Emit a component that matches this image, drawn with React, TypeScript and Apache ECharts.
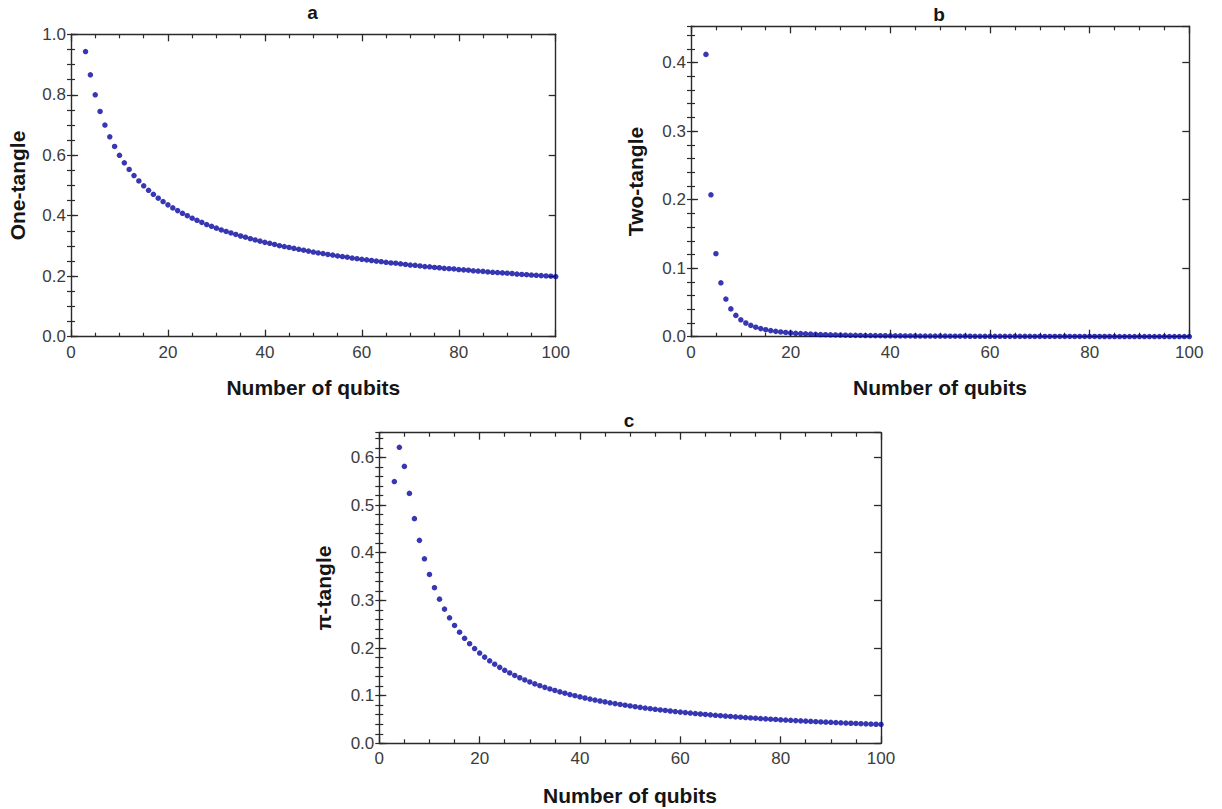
import React, { useEffect, useRef } from "react";
import * as echarts from "echarts";

// Number of qubits N
const qubits = [
  3, 4, 5, 6, 7, 8, 9, 10, 11, 12,
  13, 14, 15, 16, 17, 18, 19, 20, 21, 22,
  23, 24, 25, 26, 27, 28, 29, 30, 31, 32,
  33, 34, 35, 36, 37, 38, 39, 40, 41, 42,
  43, 44, 45, 46, 47, 48, 49, 50, 51, 52,
  53, 54, 55, 56, 57, 58, 59, 60, 61, 62,
  63, 64, 65, 66, 67, 68, 69, 70, 71, 72,
  73, 74, 75, 76, 77, 78, 79, 80, 81, 82,
  83, 84, 85, 86, 87, 88, 89, 90, 91, 92,
  93, 94, 95, 96, 97, 98, 99, 100,
];

// Panel a: one-tangle
const oneTangle = [
  0.943, 0.866, 0.800, 0.745, 0.700, 0.661, 0.629, 0.600, 0.575, 0.553,
  0.533, 0.515, 0.499, 0.484, 0.471, 0.458, 0.447, 0.436, 0.426, 0.417,
  0.408, 0.400, 0.392, 0.385, 0.378, 0.371, 0.365, 0.359, 0.353, 0.348,
  0.343, 0.338, 0.333, 0.329, 0.324, 0.320, 0.316, 0.312, 0.309, 0.305,
  0.301, 0.298, 0.295, 0.292, 0.289, 0.286, 0.283, 0.280, 0.277, 0.275,
  0.272, 0.270, 0.267, 0.265, 0.263, 0.260, 0.258, 0.256, 0.254, 0.252,
  0.250, 0.248, 0.246, 0.244, 0.243, 0.241, 0.239, 0.237, 0.236, 0.234,
  0.232, 0.231, 0.229, 0.228, 0.226, 0.225, 0.224, 0.222, 0.221, 0.220,
  0.218, 0.217, 0.216, 0.214, 0.213, 0.212, 0.211, 0.210, 0.209, 0.207,
  0.206, 0.205, 0.204, 0.203, 0.202, 0.201, 0.200, 0.199,
];

// Panel b: two-tangle
const twoTangle = [
  0.4120, 0.2071, 0.1211, 0.0787, 0.0550, 0.0406, 0.0311, 0.0246, 0.0200, 0.0165,
  0.0139, 0.0118, 0.0102, 0.00888, 0.00781, 0.00692, 0.00617, 0.00554, 0.00500, 0.00453,
  0.00413, 0.00378, 0.00347, 0.00320, 0.00296, 0.00274, 0.00255, 0.00238, 0.00222, 0.00208,
  0.00195, 0.00184, 0.00173, 0.00163, 0.00154, 0.00146, 0.00139, 0.00131, 0.00125, 0.00119,
  0.00113, 0.00108, 0.00103, 0.00099, 0.00095, 0.00091, 0.00087, 0.00083, 0.00080, 0.00077,
  0.00074, 0.00071, 0.00069, 0.00066, 0.00064, 0.00062, 0.00059, 0.00057, 0.00056, 0.00054,
  0.00052, 0.00050, 0.00049, 0.00047, 0.00046, 0.00045, 0.00043, 0.00042, 0.00041, 0.00040,
  0.00039, 0.00038, 0.00037, 0.00036, 0.00035, 0.00034, 0.00033, 0.00032, 0.00031, 0.00030,
  0.00030, 0.00029, 0.00028, 0.00028, 0.00027, 0.00026, 0.00026, 0.00025, 0.00025, 0.00024,
  0.00024, 0.00023, 0.00023, 0.00022, 0.00022, 0.00021, 0.00021, 0.00020,
];

// Panel c: pi-tangle
const piTangle = [
  0.5494, 0.6213, 0.5813, 0.5246, 0.4716, 0.4260, 0.3873, 0.3545, 0.3266, 0.3026,
  0.2817, 0.2635, 0.2474, 0.2332, 0.2205, 0.2091, 0.1988, 0.1894, 0.1809, 0.1731,
  0.1660, 0.1594, 0.1533, 0.1477, 0.1424, 0.1376, 0.1330, 0.1287, 0.1247, 0.1210,
  0.1174, 0.1141, 0.1109, 0.1079, 0.1051, 0.1024, 0.0999, 0.0974, 0.0951, 0.0929,
  0.0908, 0.0888, 0.0869, 0.0850, 0.0833, 0.0816, 0.0799, 0.0784, 0.0769, 0.0754,
  0.0740, 0.0727, 0.0714, 0.0701, 0.0689, 0.0678, 0.0666, 0.0655, 0.0645, 0.0635,
  0.0625, 0.0615, 0.0606, 0.0597, 0.0588, 0.0580, 0.0571, 0.0563, 0.0555, 0.0548,
  0.0540, 0.0533, 0.0526, 0.0519, 0.0513, 0.0506, 0.0500, 0.0494, 0.0488, 0.0482,
  0.0476, 0.0471, 0.0465, 0.0460, 0.0454, 0.0449, 0.0444, 0.0440, 0.0435, 0.0430,
  0.0425, 0.0421, 0.0417, 0.0412, 0.0408, 0.0404, 0.0400, 0.0396,
];

const panelLabels = ["a", "b", "c"];
const yTitles = ["One-tangle", "Two-tangle", "π-tangle"];
const xTitle = "Number of qubits";

const xRange = [0, 100];
const xMajorStep = 20;
const yMax = [1.0, 0.453, 0.652];
const yMajorStep = [0.2, 0.1, 0.1];
const yMinorStep = [0.05, 0.02, 0.02];

const FONT = '"Liberation Sans", Arial, Helvetica, sans-serif';
const FRAME = "#2a2a2a";
const DOT = "#0505a0";
const LABEL = "#3c3c3c";

export default function App() {
  const ref = useRef<HTMLDivElement>(null);

  useEffect(() => {
    if (!ref.current) return;
    const chart = echarts.init(ref.current, undefined, { renderer: "svg" });

    const grids = [
      { left: 71, top: 34.3, width: 484.7, height: 302.4 },
      { left: 691, top: 26.3, width: 498.3, height: 310.4 },
      { left: 379.3, top: 432.7, width: 501.7, height: 310.6 },
    ];

    const xAxes: any[] = [];
    const yAxes: any[] = [];
    grids.forEach((_, g) => {
      ["bottom", "top"].forEach((pos) => {
        xAxes.push({
          type: "value",
          gridIndex: g,
          position: pos,
          min: xRange[0],
          max: xRange[1],
          interval: xMajorStep,
          axisLine: { show: true, onZero: false, lineStyle: { color: FRAME, width: 1.4 } },
          axisTick: { show: true, inside: true, length: 7, lineStyle: { color: FRAME, width: 1.3 } },
          minorTick: { show: true, splitNumber: 4, length: 4, lineStyle: { color: FRAME, width: 1.2 } },
          splitLine: { show: false },
          axisLabel: {
            show: pos === "bottom",
            color: LABEL,
            fontFamily: FONT,
            fontSize: 17,
            margin: 7,
          },
        });
      });
      // major ticks / labels
      ["left", "right"].forEach((pos) => {
        yAxes.push({
          type: "value",
          gridIndex: g,
          position: pos,
          offset: 0,
          min: 0,
          max: yMax[g],
          interval: yMajorStep[g],
          axisLine: { show: true, onZero: false, lineStyle: { color: FRAME, width: 1.4 } },
          axisTick: { show: true, inside: true, length: 7, lineStyle: { color: FRAME, width: 1.3 } },
          splitLine: { show: false },
          axisLabel: {
            show: pos === "left",
            showMaxLabel: g === 0,
            color: LABEL,
            fontFamily: FONT,
            fontSize: 17,
            margin: 5,
            formatter: (v: number) => v.toFixed(1),
          },
        });
      });
      // minor ticks
      ["left", "right"].forEach((pos) => {
        yAxes.push({
          type: "value",
          gridIndex: g,
          position: pos,
          offset: 0,
          min: 0,
          max: yMax[g],
          interval: yMinorStep[g],
          axisLine: { show: false },
          axisTick: { show: true, inside: true, length: 4, lineStyle: { color: FRAME, width: 1.2 } },
          splitLine: { show: false },
          axisLabel: { show: false },
        });
      });
    });

    const values = [oneTangle, twoTangle, piTangle];
    const series = values.map((vals, g) => ({
      type: "scatter",
      xAxisIndex: g * 2,
      yAxisIndex: g * 4,
      symbol: "circle",
      symbolSize: 5.5,
      itemStyle: { color: DOT },
      data: qubits.map((n, i) => [n, vals[i]]),
    }));

    const titleFont = { fontFamily: FONT, fontWeight: "bold" as const, fontSize: 21, fill: "#151515" };
    const center = { textAlign: "center", textVerticalAlign: "middle" };
    const graphic: any[] = [
      // panel letters
      { type: "text", x: 312.5, y: 12, style: { ...titleFont, fontSize: 19, text: panelLabels[0], ...center } },
      { type: "text", x: 939, y: 14.5, style: { ...titleFont, fontSize: 19, text: panelLabels[1], ...center } },
      { type: "text", x: 629, y: 420.5, style: { ...titleFont, fontSize: 19, text: panelLabels[2], ...center } },
      // x titles
      { type: "text", x: 313.3, y: 387, style: { ...titleFont, text: xTitle, ...center } },
      { type: "text", x: 940, y: 387, style: { ...titleFont, text: xTitle, ...center } },
      { type: "text", x: 630, y: 795, style: { ...titleFont, text: xTitle, ...center } },
      // y titles
      { type: "text", x: 17, y: 185.5, rotation: Math.PI / 2, style: { ...titleFont, text: yTitles[0], ...center } },
      { type: "text", x: 635, y: 181.5, rotation: Math.PI / 2, style: { ...titleFont, text: yTitles[1], ...center } },
      { type: "text", x: 323.5, y: 588, rotation: Math.PI / 2, style: { ...titleFont, text: yTitles[2], ...center } },
    ];

    chart.setOption({
      animation: false,
      backgroundColor: "#ffffff",
      grid: grids.map((g) => ({ ...g, containLabel: false })),
      xAxis: xAxes,
      yAxis: yAxes,
      series,
      graphic,
    });

    return () => chart.dispose();
  }, []);

  return (
    <div
      ref={ref}
      style={{ position: "fixed", left: 0, top: 0, width: 1222, height: 809, background: "#fff" }}
    />
  );
}
